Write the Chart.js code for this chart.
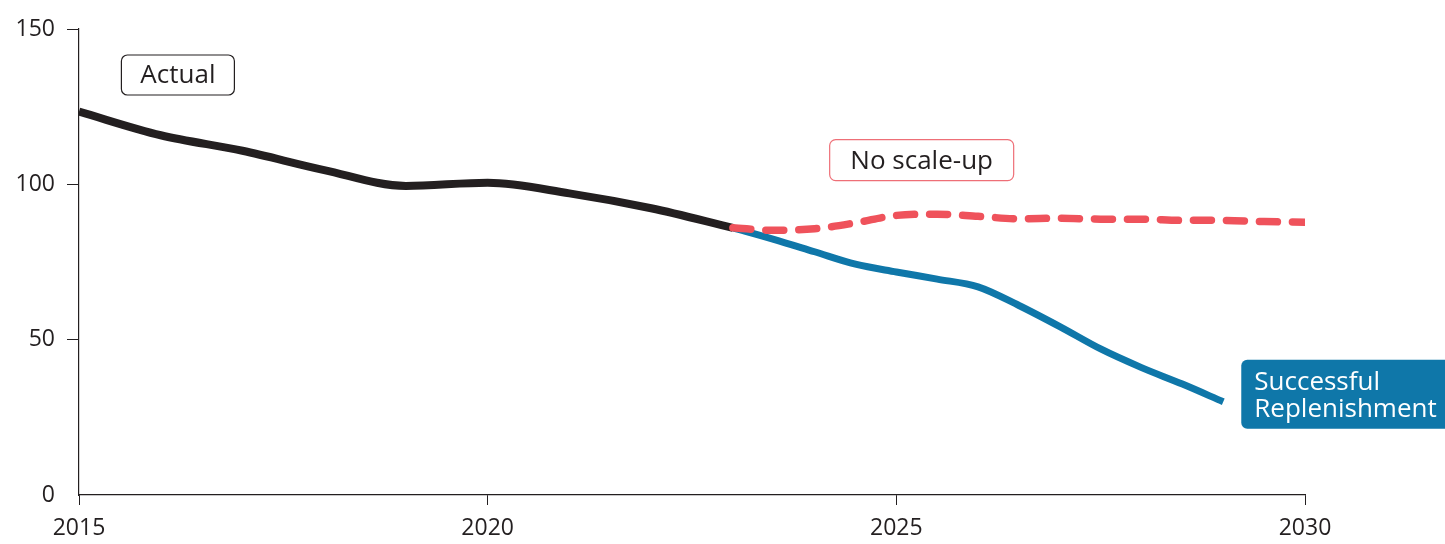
<!DOCTYPE html>
<html>
<head>
<meta charset="utf-8">
<script src="https://cdn.jsdelivr.net/npm/chart.js@4.4.1/dist/chart.umd.min.js"></script>
<style>
  html, body { margin: 0; padding: 0; background: #fff; }
  #wrap { width: 1445px; height: 544px; }
</style>
</head>
<body>
<div id="wrap"><canvas id="c" width="1445" height="544"></canvas></div>
<script>
// ---- Data ----
const actualYears = [2015, 2016, 2017, 2018, 2019, 2020, 2021, 2022, 2023];
const actualValues = [123.4, 115.8, 110.8, 104.6, 99.5, 100.5, 97.1, 92.3, 86.0];

const replenishYears = [2023, 2023.5, 2024, 2024.5, 2025, 2025.5, 2026, 2026.5, 2027, 2027.5, 2028, 2028.5, 2029];
const replenishValues = [86.0, 82.3, 78.3, 74.3, 71.8, 69.5, 67.0, 61.0, 54.2, 47.0, 41.0, 35.7, 30.0];

const noScaleYears = [2023, 2023.5, 2024, 2024.5, 2025, 2025.5, 2026, 2026.5, 2027, 2027.5, 2028, 2028.5, 2029, 2029.5, 2030];
const noScaleValues = [86.0, 85.2, 85.7, 87.6, 90.0, 90.4, 89.7, 88.9, 89.1, 88.8, 88.8, 88.4, 88.4, 88.0, 87.8];

const xTicks = [2015, 2020, 2025, 2030];
const yTicks = [0, 50, 100, 150];

const seriesNames = ['No scale-up', 'Successful Replenishment', 'Actual'];

// ---- Styles ----
const INK = '#231f20';
const BLUE = '#0f77a9';
const RED = '#ef525b';
const FONT = '"Open Sans", "Noto Sans", sans-serif';

const toPts = (xs, ys) => xs.map((x, i) => ({ x: x, y: ys[i] }));

const labelPlugin = {
  id: 'seriesLabels',
  afterDatasetsDraw(chart) {
    const ctx = chart.ctx;
    const xs = chart.scales.x, ys = chart.scales.y;
    ctx.save();
    ctx.font = '26px ' + FONT;
    ctx.textBaseline = 'middle';

    function box(cx, cy, w, h, stroke, fill) {
      ctx.beginPath();
      ctx.roundRect(cx - w / 2, cy - h / 2, w, h, 6);
      if (fill) { ctx.fillStyle = fill; ctx.fill(); }
      if (stroke) { ctx.lineWidth = 1.2; ctx.strokeStyle = stroke; ctx.stroke(); }
    }

    // "Actual" label
    let cx = xs.getPixelForValue(2016.21), cy = ys.getPixelForValue(135.2);
    box(cx, cy, 113, 40, INK, '#fff');
    ctx.fillStyle = INK; ctx.textAlign = 'center';
    ctx.fillText(seriesNames[2], cx, cy + 1);

    // "No scale-up" label
    cx = xs.getPixelForValue(2025.31); cy = ys.getPixelForValue(107.8);
    box(cx, cy, 184, 41, '#ee6f77', '#fff');
    ctx.fillStyle = INK;
    ctx.fillText(seriesNames[0], cx, cy + 1);

    // "Successful Replenishment" label anchored to end of the blue line
    const meta = chart.getDatasetMeta(1);
    const last = meta.data[meta.data.length - 1];
    const left = last.x + 18;
    const top = last.y - 42;
    ctx.beginPath();
    ctx.roundRect(left, top, 215, 69, 6);
    ctx.fillStyle = BLUE; ctx.fill();
    ctx.fillStyle = '#fff'; ctx.textAlign = 'left';
    ctx.fillText('Successful', left + 13, top + 23);
    ctx.fillText('Replenishment', left + 13, top + 50);
    ctx.restore();
  }
};

new Chart(document.getElementById('c'), {
  type: 'line',
  data: {
    datasets: [
      {
        label: seriesNames[0],
        data: toPts(noScaleYears, noScaleValues),
        borderColor: RED,
        borderWidth: 7.5,
        borderDash: [18, 15],
        borderCapStyle: 'round',
        cubicInterpolationMode: 'monotone',
        pointRadius: 0,
        order: 0
      },
      {
        label: seriesNames[1],
        data: toPts(replenishYears, replenishValues),
        borderColor: BLUE,
        borderWidth: 7,
        borderCapStyle: 'butt',
        cubicInterpolationMode: 'monotone',
        pointRadius: 0,
        order: 2
      },
      {
        label: seriesNames[2],
        data: toPts(actualYears, actualValues),
        borderColor: INK,
        borderWidth: 8,
        borderCapStyle: 'butt',
        cubicInterpolationMode: 'monotone',
        pointRadius: 0,
        order: 1
      }
    ]
  },
  options: {
    responsive: false,
    devicePixelRatio: 1,
    animation: false,
    layout: { padding: { top: 29, right: 140, left: 0, bottom: 0 } },
    plugins: { legend: { display: false }, tooltip: { enabled: false } },
    scales: {
      x: {
        type: 'linear',
        min: 2015, max: 2030,
        afterBuildTicks: s => { s.ticks = xTicks.map(v => ({ value: v })); },
        afterFit: s => { s.height = 49; },
        border: { display: true, color: INK, width: 1.2 },
        grid: { display: true, drawOnChartArea: false, drawTicks: true, tickLength: 10, tickColor: INK, tickWidth: 1 },
        ticks: { color: INK, font: { family: FONT, size: 23 }, padding: 10, callback: v => String(v), maxRotation: 0 }
      },
      y: {
        min: 0, max: 150,
        afterBuildTicks: s => { s.ticks = yTicks.map(v => ({ value: v })); },
        afterFit: s => { s.width = 79; },
        border: { display: true, color: INK, width: 1.2 },
        grid: {
          display: true, drawOnChartArea: false, drawTicks: true, tickLength: 12, tickWidth: 1,
          tickColor: c => (c.tick && c.tick.value === 0) ? 'rgba(0,0,0,0)' : INK
        },
        ticks: { color: INK, font: { family: FONT, size: 23 }, padding: 12 }
      }
    }
  },
  plugins: [labelPlugin]
});
</script>
</body>
</html>
